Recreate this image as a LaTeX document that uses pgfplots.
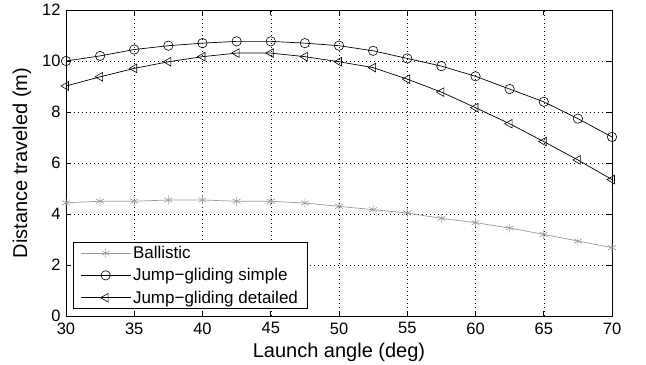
\documentclass[border=0pt]{standalone}
\usepackage{pgfplots}
\pgfplotsset{compat=1.18}
\usepackage{pgfplotstable}
\usepackage{fontspec}
\setmainfont{Liberation Sans}
\usetikzlibrary{calc}
\pgfplotstableread{
x     ball  simple detailed
30    4.44  10.00  9.02
32.5  4.50  10.20  9.38
35    4.50  10.45  9.71
37.5  4.55  10.60  9.97
40    4.55  10.70  10.17
42.5  4.50  10.77  10.31
45    4.50  10.77  10.31
47.5  4.43  10.70  10.17
50    4.30  10.60  9.97
52.5  4.17  10.40  9.74
55    4.04  10.10  9.29
57.5  3.83  9.80   8.78
60    3.66  9.40   8.17
62.5  3.45  8.90   7.54
65    3.20  8.40   6.84
67.5  2.94  7.74   6.12
70    2.68  7.02   5.35
}\datatable
\definecolor{balgray}{gray}{0.6}
\begin{document}
\begin{tikzpicture}
\begin{axis}[name=ax, scale only axis, width=546pt, height=306pt,
  xmin=30, xmax=70, ymin=0, ymax=12,
  xtick={30,35,...,70}, ytick={0,2,...,12},
  grid=major,
  major grid style={black, line width=0.5pt, dash pattern=on 0.7pt off 3.3pt},
  tick align=inside, major tick length=5pt,
  tick style={black, line width=0.7pt},
  axis line style={line width=0.9pt},
  ticklabel style={font=\fontsize{16.5}{19}\selectfont},
  xticklabel style={yshift=-3pt},
  yticklabel style={xshift=-2pt},
  label style={font=\fontsize{20}{23}\selectfont},
  xlabel={Launch angle (deg)}, ylabel={Distance traveled (m)},
  xlabel style={at={(axis description cs:0.5,-0.1176)}, anchor=center},
  ylabel style={at={(axis description cs:-0.0806,0.5)}, anchor=center},
  /pgf/number format/assume math mode=true,
  legend cell align=left,
  legend style={at={(axis description cs:0.0128,0.023)}, anchor=south west,
    font=\fontsize{17}{20}\selectfont, draw=black, line width=0.7pt,
    inner xsep=7pt, inner ysep=2pt, row sep=4.5pt,
    /tikz/every even column/.append style={column sep=3pt}},
  legend image code/.code={\draw[mark repeat=2,mark phase=2,#1] plot coordinates {(0pt,0pt) (25pt,0pt) (50pt,0pt)};},
]
\addplot[balgray, line width=0.7pt, mark=asterisk, mark size=4.5pt, mark options={balgray, line width=0.6pt}] table[x=x,y=ball] {\datatable};
\addlegendentry{Ballistic}
\addplot[black, line width=0.7pt, mark=o, mark size=4.7pt, mark options={black, line width=0.6pt}] table[x=x,y=simple] {\datatable};
\addlegendentry{Jump−gliding simple}
\addplot[black, line width=0.7pt, mark=triangle, mark size=5pt, mark options={black, line width=0.6pt, rotate=90}] table[x=x,y=detailed] {\datatable};
\addlegendentry{Jump−gliding detailed}
\end{axis}
\pgfresetboundingbox
\useasboundingbox ($(ax.south west)+(-66pt,-48pt)$) rectangle ($(ax.north east)+(34pt,10pt)$);
\end{tikzpicture}
\end{document}
